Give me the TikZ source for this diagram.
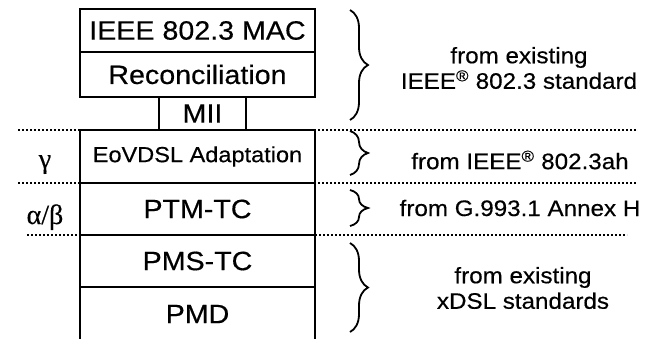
\documentclass[tikz,border=0pt]{standalone}
\usepackage{fontspec}
\setmainfont[FakeStretch=1.08,FakeBold=0.4]{Liberation Sans}
\newfontfamily\grkfont[FakeBold=0.3]{Liberation Serif}
\usetikzlibrary{decorations.pathreplacing}
\begin{document}
\begin{tikzpicture}[x=1pt,y=-1pt,
  layerbox/.style={draw=black, line width=2.6pt, rectangle, inner sep=0pt, outer sep=0pt,
    font=\fontsize{26.5}{30}\selectfont},
  dotline/.style={line width=1.8pt, dash pattern=on 1.6pt off 2.4pt},
  bracer/.style={line width=1.8pt, decorate, decoration={brace, amplitude=18pt, aspect=0.5}},
  srctext/.style={align=center, inner sep=0pt, font=\fontsize{22.4}{25.5}\selectfont},
  grk/.style={inner sep=0pt, anchor=base, font=\grkfont\fontsize{28}{28}\selectfont}]
\useasboundingbox (0,0) rectangle (651,338);

% dotted separators
\coordinate (d1l) at (18,130);  \coordinate (d1r) at (637,130);
\coordinate (d2l) at (18,183);  \coordinate (d2r) at (636,183);
\coordinate (d3l) at (27,235);  \coordinate (d3r) at (627,235);
\draw[dotline] (d1l) -- (d1r);
\draw[dotline] (d2l) -- (d2r);
\draw[dotline] (d3l) -- (d3r);

% layer boxes
\node[layerbox, minimum width=235pt, minimum height=43pt] (mac) at (197.5,30.5) {IEEE 802.3 MAC};
\node[layerbox, minimum width=235pt, minimum height=45pt] (rec) at (197.5,74.5) {Reconciliation};
\node[layerbox, minimum width=87pt, minimum height=33pt] (mii) at (202.5,113.5) {MII};
\node[layerbox, minimum width=235pt, minimum height=53pt, font=\fontsize{21.8}{24}\selectfont] (eov) at (197.5,156.5) {EoVDSL Adaptation};
\node[layerbox, minimum width=235pt, minimum height=52pt] (ptm) at (197.5,209) {PTM-TC};
\node[layerbox, minimum width=235pt, minimum height=52pt] (pms) at (197.5,261) {PMS-TC};
\node[layerbox, minimum width=235pt, minimum height=54pt] (pmd) at (197.5,314) {PMD};

% greek labels
\node[grk] (gam) at (45,168) {γ};
\node[grk] (ab) at (45,224) {α/β};

% braces
\coordinate (b1t) at (350,10);  \coordinate (b1b) at (350,120);
\coordinate (b2t) at (350,131); \coordinate (b2b) at (350,175);
\coordinate (b3t) at (350,190); \coordinate (b3b) at (350,226);
\coordinate (b4t) at (350,243); \coordinate (b4b) at (350,332);
\draw[bracer] (b1t) -- (b1b);
\draw[bracer] (b2t) -- (b2b);
\draw[bracer] (b3t) -- (b3b);
\draw[bracer] (b4t) -- (b4b);

% source texts
\node[srctext] (s1) at (519,68) {from existing\\IEEE\textsuperscript{®} 802.3 standard};
\node[srctext] (s2) at (520,160) {from IEEE\textsuperscript{®} 802.3ah};
\node[srctext] (s3) at (520,208) {from G.993.1 Annex H};
\node[srctext] (s4) at (523,288) {from existing\\xDSL standards};
\end{tikzpicture}
\end{document}
